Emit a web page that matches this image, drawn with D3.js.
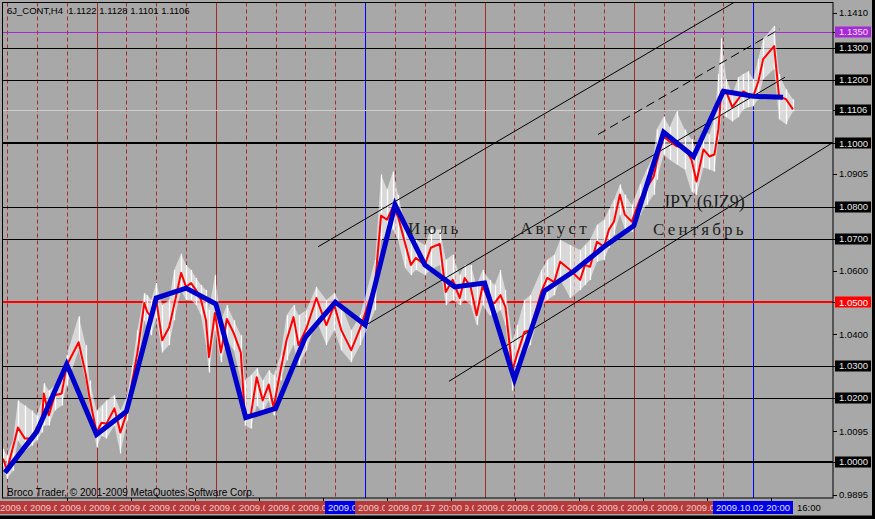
<!DOCTYPE html>
<html><head><meta charset="utf-8">
<script src="https://cdn.jsdelivr.net/npm/d3@7"></script>
<style>html,body{margin:0;padding:0;background:#a8a8a8;}svg{display:block}</style>
</head><body>
<svg id="chart" width="875" height="519"></svg>
<script>
// ---------------- DATA ----------------
const titleText = "6J_CONT,H4  1.1122 1.1128 1.1101 1.1106";
const copyrightText = "Broco Trader, \u00A9 2001-2009 MetaQuotes Software Corp.";

// H4 bar index of each daily point
const bars = [-4,0,6,11,18,25,30,35,37,42,48,55,60,72,79,83,90,95,100,108,114,121,126,131,138,141,145,150,156,163,168,175,180,185,190,195,200,203,209,215,221,228,235,239,245,251,257,263,268,275,281,288,293,301,311,321,329,336,346,355,370,376,382,388,393,400,406,411,420,426,435,441,448,455,460,466,472,478,485,490,496,501,508,513,520,526,537,543,550,556,566,576,581,586,593,600,605,610,616,621,628,636,643,650,653,660,666,673,681,688,693,700,706,711,715,718,723,729,735,740,745,750,755,760,771,776,783,790];
// red line (close)
const closes = [1.0009,0.9974,1.0044,1.0107,1.0072,1.0072,1.0107,1.0122,1.0214,1.0145,1.0208,1.0214,1.0302,1.0375,1.0277,1.0201,1.0091,1.0122,1.0119,1.0167,1.0091,1.0160,1.0255,1.0340,1.0498,1.0470,1.0454,1.0508,1.0381,1.0422,1.0492,1.0593,1.0549,1.0561,1.0539,1.0508,1.0444,1.0328,1.0467,1.0343,1.0448,1.0403,1.0343,1.0145,1.0145,1.0265,1.0192,1.0242,1.0170,1.0287,1.0381,1.0454,1.0366,1.0419,1.0514,1.0429,1.0492,1.0413,1.0350,1.0419,1.0561,1.0773,1.0760,1.0801,1.0770,1.0688,1.0618,1.0640,1.0618,1.0672,1.0684,1.0533,1.0571,1.0514,1.0577,1.0549,1.0460,1.0552,1.0501,1.0498,1.0523,1.0485,1.0287,1.0340,1.0407,1.0413,1.0533,1.0577,1.0564,1.0628,1.0602,1.0571,1.0618,1.0612,1.0691,1.0675,1.0729,1.0754,1.0839,1.0776,1.0754,1.0823,1.0861,1.0896,1.0940,1.1022,1.1006,1.0991,1.0987,1.0949,1.0880,1.0981,1.0959,1.0965,1.1044,1.1164,1.1161,1.1114,1.1139,1.1164,1.1155,1.1148,1.1193,1.1265,1.1306,1.1148,1.1139,1.1107];
// white bars (high / low)
const highs = [1.0040,1.0018,1.0066,1.0192,1.0176,1.0160,1.0145,1.0192,1.0246,1.0223,1.0239,1.0271,1.0334,1.0457,1.0366,1.0255,1.0160,1.0176,1.0192,1.0208,1.0160,1.0208,1.0302,1.0413,1.0530,1.0523,1.0508,1.0561,1.0492,1.0508,1.0602,1.0653,1.0618,1.0602,1.0577,1.0555,1.0539,1.0476,1.0586,1.0444,1.0492,1.0444,1.0397,1.0255,1.0271,1.0293,1.0255,1.0287,1.0271,1.0334,1.0460,1.0492,1.0460,1.0476,1.0549,1.0508,1.0530,1.0492,1.0413,1.0460,1.0634,1.0902,1.0855,1.0912,1.0839,1.0744,1.0697,1.0697,1.0681,1.0729,1.0729,1.0634,1.0650,1.0586,1.0618,1.0618,1.0555,1.0602,1.0571,1.0555,1.0602,1.0539,1.0381,1.0429,1.0508,1.0523,1.0602,1.0634,1.0650,1.0697,1.0681,1.0665,1.0681,1.0697,1.0744,1.0760,1.0792,1.0823,1.0871,1.0839,1.0807,1.0871,1.0918,1.0965,1.1044,1.1085,1.1051,1.1101,1.1044,1.1013,1.0981,1.1044,1.1028,1.1076,1.1218,1.1330,1.1202,1.1155,1.1208,1.1218,1.1227,1.1202,1.1265,1.1328,1.1369,1.1218,1.1170,1.1139];
const lows = [0.9987,0.9946,0.9971,1.0066,1.0034,1.0050,1.0066,1.0091,1.0113,1.0113,1.0160,1.0176,1.0239,1.0350,1.0255,1.0176,1.0044,1.0081,1.0072,1.0113,1.0025,1.0129,1.0208,1.0287,1.0444,1.0413,1.0397,1.0451,1.0343,1.0366,1.0444,1.0539,1.0508,1.0508,1.0492,1.0460,1.0366,1.0280,1.0413,1.0312,1.0381,1.0350,1.0255,1.0113,1.0104,1.0176,1.0154,1.0192,1.0145,1.0255,1.0318,1.0366,1.0302,1.0350,1.0444,1.0366,1.0413,1.0350,1.0312,1.0366,1.0476,1.0697,1.0713,1.0729,1.0697,1.0609,1.0586,1.0602,1.0586,1.0602,1.0618,1.0492,1.0508,1.0492,1.0508,1.0492,1.0429,1.0492,1.0460,1.0460,1.0476,1.0429,1.0223,1.0271,1.0334,1.0366,1.0492,1.0508,1.0523,1.0571,1.0514,1.0539,1.0555,1.0571,1.0628,1.0634,1.0672,1.0713,1.0776,1.0729,1.0722,1.0776,1.0807,1.0839,1.0886,1.0965,1.0949,1.0934,1.0918,1.0848,1.0839,1.0924,1.0918,1.0912,1.1013,1.1092,1.1082,1.1069,1.1082,1.1107,1.1114,1.1117,1.1139,1.1202,1.1234,1.1076,1.1060,1.1101];

// blue weekly zigzag
const zigBars = [-2,30,60,90,120,150,180,210,240,270,300,330,360,390,420,450,480,510,540,570,600,630,660,690,720,750,780];
const zigValues = [0.9965,1.0094,1.0306,1.0085,1.0157,1.0514,1.0545,1.0495,1.0138,1.0167,1.0391,1.0501,1.0429,1.0807,1.0618,1.0549,1.0561,1.0258,1.0536,1.0599,1.0675,1.0741,1.1035,1.0959,1.1164,1.1148,1.1145];

// weekly separators (Friday 20:00), index = week number
const weekDates = ["2009.04.10 20:00","2009.04.17 20:00","2009.04.24 20:00","2009.05.01 20:00","2009.05.08 20:00","2009.05.15 20:00","2009.05.22 20:00","2009.05.29 20:00","2009.06.05 20:00","2009.06.12 20:00","2009.06.19 20:00","2009.06.26 20:00","2009.07.03 20:00","2009.07.10 20:00","2009.07.17 20:00","2009.07.24 20:00","2009.07.31 20:00","2009.08.07 20:00","2009.08.14 20:00","2009.08.21 20:00","2009.08.28 20:00","2009.09.04 20:00","2009.09.11 20:00","2009.09.18 20:00","2009.09.25 20:00","2009.10.02 20:00"];
const monthWeeks = [3,7,16,21];   // solid separators
const blueWeeks = [12,25];        // blue separators
const topLabelWeek = 14;          // label drawn on top
const barsPerWeek = 30;

// horizontal levels
const blackLevels = [1.1300,1.1200,1.1000,1.0800,1.0700,1.0300,1.0200,1.0000];
const thickLevels = [1.1000,1.0000];
const redLevel = 1.0500;
const violetLevel = 1.1350;
const bidLevel = 1.1106;
const priceTicks = [1.1410,1.0905,1.0600,1.0400,1.0095,0.9895];

// channel lines [bar, price] pairs
const channels = [
  {from:[312.6,1.0675], to:[731.7,1.1445], dashed:false},
  {from:[360.8,1.0429], to:[781.9,1.1208], dashed:false},
  {from:[594.0,1.1028], to:[776.9,1.1360], dashed:true},
  {from:[444.2,1.0252], to:[830.2,1.1003], dashed:false}
];

// text annotations anchored in data space [bar, price]
const monthNames = ["Июль","Август","Сентябрь"];
const monthAnchors = [[403,1.0715],[515.6,1.0715],[649.3,1.0712]];
const contractName = "JPY (6JZ9)";
const contractAnchor = [659.3,1.0797];
const timeTickLabel = "16:00";

// ---------------- CHART ----------------
const svg = d3.select("#chart");
const W = 875, H = 519;
const L = 2.5, T = 2.5, R = 833, B = 498;
const x = d3.scaleLinear().domain([-4, 830.2]).range([3, 833]);
const y = d3.scaleLinear().domain([0.9895, 1.1410]).range([494.9, 13.0]);
const cx = v => Math.round(x(v)) + 0.5;
const cy = v => Math.round(y(v)) + 0.5;

svg.append("rect").attr("width", W).attr("height", H).attr("fill", "#a8a8a8");
const defs = svg.append("defs");
defs.append("clipPath").attr("id", "plot")
  .append("rect").attr("x", L).attr("y", T).attr("width", R - L).attr("height", B - T);
const plot = svg.append("g").attr("clip-path", "url(#plot)");

// weekly separators
const weeks = weekDates.map((d, i) => i);
plot.selectAll("line.week").data(weeks).join("line")
  .attr("x1", w => cx(w * barsPerWeek)).attr("x2", w => cx(w * barsPerWeek))
  .attr("y1", T).attr("y2", B)
  .attr("stroke", w => blueWeeks.includes(w) ? "#0000ff" : "#a52a2a")
  .attr("stroke-width", 1)
  .attr("stroke-dasharray", w => (blueWeeks.includes(w) || monthWeeks.includes(w)) ? null : "4,3");

// horizontal levels
plot.selectAll("line.lvl").data(blackLevels).join("line")
  .attr("x1", L).attr("x2", R)
  .attr("y1", v => thickLevels.includes(v) ? Math.round(y(v)) : cy(v))
  .attr("y2", v => thickLevels.includes(v) ? Math.round(y(v)) : cy(v))
  .attr("stroke", "#000").attr("stroke-width", v => thickLevels.includes(v) ? 2 : 1);
plot.append("line").attr("x1", L).attr("x2", R).attr("y1", Math.round(y(redLevel))).attr("y2", Math.round(y(redLevel)))
  .attr("stroke", "#ff0000").attr("stroke-width", 2);
plot.append("line").attr("x1", L).attr("x2", R).attr("y1", cy(violetLevel)).attr("y2", cy(violetLevel))
  .attr("stroke", "#a52ad6").attr("stroke-width", 1);
plot.append("line").attr("x1", L).attr("x2", R).attr("y1", cy(bidLevel)).attr("y2", cy(bidLevel))
  .attr("stroke", "#cfcfcf").attr("stroke-width", 1);

// white price range band
const pts = bars.map((b, i) => ({b, c: closes[i], h: highs[i], l: lows[i]}));
plot.append("path").datum(pts)
  .attr("d", d3.area().x(d => x(d.b)).y0(d => y(d.l)).y1(d => y(d.h)))
  .attr("fill", "#ffffff").attr("fill-opacity", 0.55);
plot.selectAll("line.hl").data(pts).join("line")
  .attr("x1", d => cx(d.b)).attr("x2", d => cx(d.b))
  .attr("y1", d => y(d.h)).attr("y2", d => y(d.l))
  .attr("stroke", "#ffffff").attr("stroke-width", 1.2);

// channel lines
plot.selectAll("line.ch").data(channels).join("line")
  .attr("x1", d => x(d.from[0])).attr("y1", d => y(d.from[1]))
  .attr("x2", d => x(d.to[0])).attr("y2", d => y(d.to[1]))
  .attr("stroke", "#000").attr("stroke-width", 1)
  .attr("stroke-dasharray", d => d.dashed ? "9,5" : null);

// red close line
plot.append("path").datum(pts)
  .attr("d", d3.line().x(d => x(d.b)).y(d => y(d.c)))
  .attr("fill", "none").attr("stroke", "#ff0000").attr("stroke-width", 2).attr("stroke-linejoin", "round");

// blue zigzag
const zz = zigBars.map((b, i) => ({b, v: zigValues[i]}));
plot.append("path").datum(zz)
  .attr("d", d3.line().x(d => x(d.b)).y(d => y(d.v)))
  .attr("fill", "none").attr("stroke", "#0000cd").attr("stroke-width", 5).attr("stroke-linejoin", "miter");

// annotations
const serif = "'Liberation Serif','Times New Roman',serif";
plot.selectAll("text.month").data(monthNames).join("text")
  .attr("x", (d, i) => x(monthAnchors[i][0])).attr("y", (d, i) => y(monthAnchors[i][1]))
  .attr("font-family", serif).attr("font-size", 17).attr("letter-spacing", 3.2)
  .attr("fill", "#1e1e1e").text(d => d);
plot.append("text").attr("x", x(contractAnchor[0])).attr("y", y(contractAnchor[1]))
  .attr("font-family", serif).attr("font-size", 18).attr("fill", "#1e1e1e").text(contractName);

// frame
svg.append("rect").attr("x", L).attr("y", T).attr("width", R - L).attr("height", B - T)
  .attr("fill", "none").attr("stroke", "#000").attr("stroke-width", 1);

const sans = "'Liberation Sans',Arial,sans-serif";
svg.append("text").attr("x", 7).attr("y", 14).attr("font-family", sans).attr("font-size", 9.5)
  .attr("fill", "#000").style("white-space", "pre").text(titleText);
svg.append("text").attr("x", 7).attr("y", 495.5).attr("font-family", sans).attr("font-size", 10)
  .attr("fill", "#000").text(copyrightText);

// right price axis
const fmt = d3.format(".4f");
const rAxis = svg.append("g");
rAxis.selectAll("line.tk").data(priceTicks).join("line")
  .attr("x1", R).attr("x2", R + 4).attr("y1", cy).attr("y2", cy).attr("stroke", "#000");
rAxis.selectAll("text.tk").data(priceTicks).join("text")
  .attr("x", 839).attr("y", v => y(v)).attr("dy", "0.35em")
  .attr("font-family", sans).attr("font-size", 9.5).attr("fill", "#000").text(fmt);

const boxed = blackLevels.map(v => ({v, bg: "#000", fg: "#e8e8e8"}))
  .concat([{v: bidLevel, bg: "#000", fg: "#e8e8e8"},
           {v: redLevel, bg: "#ff0000", fg: "#ffffff"},
           {v: violetLevel, bg: "#a52ad6", fg: "#f0e0f8"}]);
const bg = rAxis.selectAll("g.box").data(boxed).join("g");
bg.append("line").attr("x1", R).attr("x2", 836).attr("y1", d => cy(d.v)).attr("y2", d => cy(d.v)).attr("stroke", "#000");
bg.append("rect").attr("x", 835).attr("y", d => Math.round(y(d.v)) - 5.5).attr("width", 36).attr("height", 11)
  .attr("fill", d => d.bg);
bg.append("text").attr("x", 839).attr("y", d => y(d.v)).attr("dy", "0.35em")
  .attr("font-family", sans).attr("font-size", 9.5).attr("fill", d => d.fg).text(d => fmt(d.v));

// bottom time axis
const bAxis = svg.append("g");
const xTicks = [64,128,192,256,320,384,448,512,576,640,704,768].map(p => x.invert(3 + p));
bAxis.selectAll("line.xt").data(xTicks).join("line")
  .attr("x1", cx).attr("x2", cx).attr("y1", B).attr("y2", B + 4).attr("stroke", "#000");
bAxis.append("text").attr("x", 797).attr("y", 511).attr("font-family", sans).attr("font-size", 9.5)
  .attr("fill", "#000").text(timeTickLabel);

// separator labels: each a box centred on its line; later boxes cover earlier ones
const order = weeks.filter(w => w !== topLabelWeek && w !== 25).concat([topLabelWeek, 25]);
const boxes = order.map(w => {
  const c = Math.round(x(w * barsPerWeek));
  return {w, s: c - 40, e: c + 40};
});
boxes.forEach((bx, i) => {
  let segS = Math.max(bx.s, 0), segE = bx.e;
  for (const o of boxes.slice(i + 1)) {
    if (o.e <= segS || o.s >= segE) continue;
    if (o.s <= segS) segS = Math.max(segS, o.e); else segE = o.s;
  }
  if (segE - segS < 2) return;
  const blue = blueWeeks.includes(bx.w);
  const cid = "lab" + bx.w;
  defs.append("clipPath").attr("id", cid).append("rect")
    .attr("x", segS).attr("y", 501).attr("width", segE - segS).attr("height", 13);
  const g = bAxis.append("g").attr("clip-path", `url(#${cid})`);
  g.append("rect").attr("x", segS).attr("y", 501).attr("width", segE - segS).attr("height", 13)
    .attr("fill", blue ? "#0000e6" : "#b73a3a");
  const full = weekDates[bx.w];
  const t = g.append("text").attr("x", bx.s + 3).attr("y", 511).attr("font-family", sans)
    .attr("font-size", 9.5).attr("fill", blue ? "#e0e0f0" : "#efcccc").text(full);
  const node = t.node();
  let k0 = -1, k1 = -1;
  for (let k = 0; k < full.length; k++) {
    const ext = node.getExtentOfChar(k);
    if (ext.x + ext.width > segS + 1 && k0 < 0) k0 = k;
    if (ext.x < segE - 2) k1 = k;
  }
  if (k0 < 0 || k1 < k0) { t.remove(); return; }
  const startX = node.getStartPositionOfChar(k0).x;
  t.attr("x", startX).text(full.slice(k0, k1 + 1));
});

// window edges
svg.append("rect").attr("x", 0).attr("y", 515.5).attr("width", W).attr("height", 4).attr("fill", "#000");
svg.append("rect").attr("x", 872).attr("y", 0).attr("width", 3).attr("height", H).attr("fill", "#000");
</script>
</body></html>
